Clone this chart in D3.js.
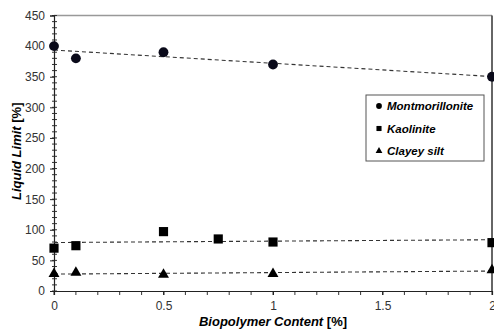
<!DOCTYPE html>
<html>
<head>
<meta charset="utf-8">
<script src="https://cdn.jsdelivr.net/npm/d3@7"></script>
<style>
    body { margin: 0; background: #fff; }
    svg { display: block; font-family: "Liberation Sans", Arial, sans-serif; }
</style>
</head>
<body>
<div id="chart"></div>
<script>
// values
const montX = [0, 0.1, 0.5, 1, 2];
const montY = [400, 380, 390, 370, 350];
const kaolX = [0, 0.1, 0.5, 0.75, 1, 2];
const kaolY = [70, 74, 97, 85, 80, 79];
const siltX = [0, 0.1, 0.5, 1, 2];
const siltY = [28, 30, 27, 28, 34];
const xTicks = [0, 0.5, 1, 1.5, 2];
const yTicks = [0, 50, 100, 150, 200, 250, 300, 350, 400, 450];
const seriesNames = ["Montmorillonite", "Kaolinite", "Clayey silt"];

const width = 494, height = 334;
const margin = {left: 54, right: 2, top: 15.5, bottom: 43};

const svg = d3.select("#chart").append("svg")
    .attr("width", width)
    .attr("height", height);

const x = d3.scaleLinear().domain([0, 2]).range([margin.left, width - margin.right]);
const y = d3.scaleLinear().domain([0, 450]).range([height - margin.bottom, margin.top]);

// frame: gray top, dark right
svg.append("line")
    .attr("x1", x(0)).attr("x2", x(2))
    .attr("y1", y(450)).attr("y2", y(450))
    .style("stroke", "#999").style("stroke-width", 1.5);
svg.append("line")
    .attr("x1", x(2)).attr("x2", x(2))
    .attr("y1", y(450)).attr("y2", y(0))
    .style("stroke", "#333").style("stroke-width", 1.5);

// minor ticks
const yMinor = d3.range(0, 451, 10);
svg.append("g").selectAll("line").data(yMinor).join("line")
    .attr("x1", x(0) - 2).attr("x2", x(0) + 3)
    .attr("y1", d => y(d)).attr("y2", d => y(d))
    .style("stroke", "#333");
const xMinor = d3.range(0, 21).map(i => i / 10);
svg.append("g").selectAll("line").data(xMinor).join("line")
    .attr("x1", d => x(d)).attr("x2", d => x(d))
    .attr("y1", y(0)).attr("y2", y(0) + 4)
    .style("stroke", "#333");

const xAxis = svg.append("g")
    .attr("transform", `translate(0,${y(0)})`)
    .call(d3.axisBottom(x).tickValues(xTicks).tickSize(4).tickPadding(6).tickFormat(d3.format("")));
const yAxis = svg.append("g")
    .attr("transform", `translate(${x(0)},0)`)
    .call(d3.axisLeft(y).tickValues(yTicks).tickSize(4).tickPadding(5));

[xAxis, yAxis].forEach(ax => {
    ax.select(".domain").style("stroke", "#222").style("stroke-width", 1.2);
    ax.selectAll(".tick line").style("stroke", "#222");
    ax.selectAll("text")
        .style("font-size", "12px")
        .style("fill", "#333")
        .style("font-family", "Liberation Sans, Arial, sans-serif");
});

// linear trend lines (least squares)
const trend = (xs, ys) => {
    const mx = d3.mean(xs), my = d3.mean(ys);
    const sxy = d3.sum(xs, (v, i) => (v - mx) * (ys[i] - my));
    const sxx = d3.sum(xs, v => (v - mx) * (v - mx));
    const b = sxy / sxx;
    const a = my - b * mx;
    return [[0, a], [2, a + 2 * b]];
};

const series = [
    {xs: montX, ys: montY, shape: d3.symbolCircle, size: 76},
    {xs: kaolX, ys: kaolY, shape: d3.symbolSquare, size: 84},
    {xs: siltX, ys: siltY, shape: d3.symbolTriangle, size: 52}
];

const line = d3.line().x(d => x(d[0])).y(d => y(d[1]));

series.forEach(s => {
    svg.append("path")
        .attr("d", line(trend(s.xs, s.ys)))
        .style("fill", "none")
        .style("stroke", "#333")
        .style("stroke-width", 1.1)
        .style("stroke-dasharray", "4,3");
});

series.forEach((s, si) => {
    svg.append("g").selectAll("path").data(s.xs).join("path")
        .attr("transform", (d, i) => `translate(${x(d)},${y(s.ys[i])})`)
        .attr("d", d3.symbol().type(s.shape).size(s.size))
        .style("fill", si === 0 ? "#0a0a1a" : "#000");
});

// legend
const legend = svg.append("g").attr("transform", "translate(366,95)");
legend.append("rect")
    .attr("width", 118).attr("height", 66)
    .style("fill", "#fff")
    .style("stroke", "#555");
seriesNames.forEach((name, i) => {
    const row = legend.append("g").attr("transform", `translate(0,${11 + i * 22.5})`);
    row.append("path")
        .attr("transform", "translate(13,0)")
        .attr("d", d3.symbol().type(series[i].shape).size(i === 2 ? 20 : 26))
        .style("fill", "#000");
    row.append("text")
        .attr("x", 21).attr("y", 4)
        .style("font-size", "11.5px")
        .style("font-weight", "bold")
        .style("font-style", "italic")
        .text(name);
});

// axis titles
svg.append("text")
    .attr("x", x(1)).attr("y", 326)
    .attr("text-anchor", "middle")
    .style("font-size", "13px")
    .style("font-weight", "bold")
    .call(t => {
        t.append("tspan").style("font-style", "italic").text("Biopolymer Content ");
        t.append("tspan").text("[%]");
    });

svg.append("text")
    .attr("transform", `translate(21,${(y(0) + y(450)) / 2 - 2}) rotate(-90)`)
    .attr("text-anchor", "middle")
    .style("font-size", "13px")
    .style("font-weight", "bold")
    .call(t => {
        t.append("tspan").style("font-style", "italic").text("Liquid Limit ");
        t.append("tspan").text("[%]");
    });
</script>
</body>
</html>
